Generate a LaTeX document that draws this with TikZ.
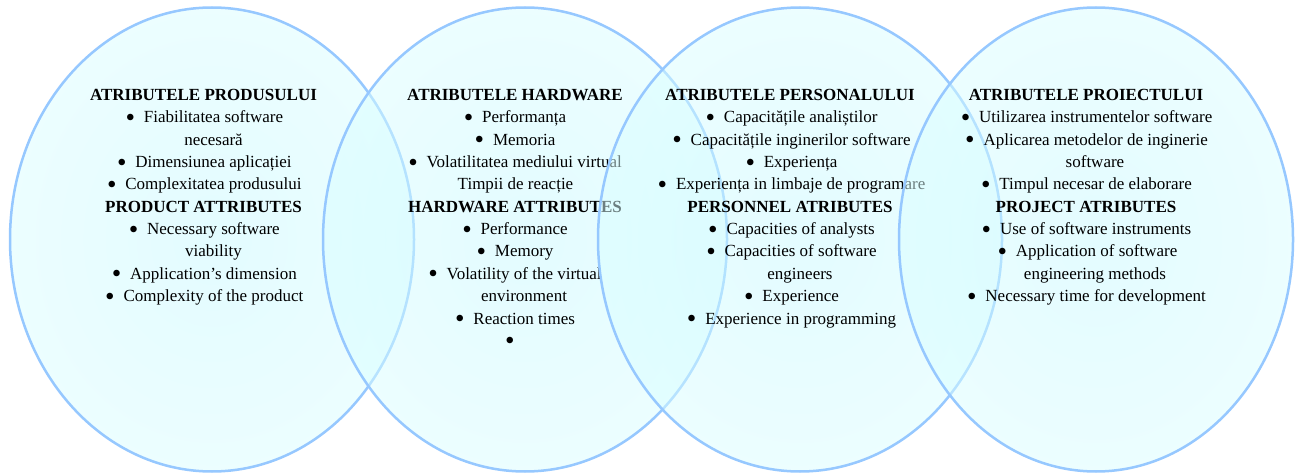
\documentclass[tikz,border=0pt]{standalone}
\usepackage{fontspec}
\setmainfont{Liberation Serif}
\definecolor{vennedge}{RGB}{150,200,255}
\definecolor{venninner}{RGB}{200,250,255}
\definecolor{vennouter}{RGB}{218,254,255}
\tikzset{
  vennline/.style={line width=2.5pt, draw=vennedge},
  vennfill/.style={inner color=venninner, outer color=vennouter, fill opacity=0.5},
  txt/.style={anchor=base, inner sep=0pt, font=\fontsize{17}{20}\selectfont},
  hd/.style={anchor=base, inner sep=0pt, font=\fontsize{17}{20}\selectfont\bfseries},
}
\newcommand\bigdot{\smash{\raisebox{-3.6pt}{\scalebox{1.6}{\textbullet}}}}
\newcommand\bl{\bigdot\hspace{8.8pt}}
\begin{document}
\begin{tikzpicture}[x=1pt,y=-1pt]
\useasboundingbox (0,0) rectangle (1296,473);
\fill[white] (0,0) rectangle (1296,473);
% ---------- ellipse 1
\shade[vennfill] (212,239.5) ellipse [x radius=202pt, y radius=232pt];
\draw[vennline] (212,239.5) ellipse [x radius=202pt, y radius=232pt];
\node[hd]  (a0) at (203.5,100.5)  {ATRIBUTELE PRODUSULUI};
\node[txt] (a1) at (204.3,122.85) {\bl Fiabilitatea software};
\node[txt] (a2) at (213.5,145.2)  {necesară};
\node[txt] (a3) at (204.3,167.55) {\bl Dimensiunea aplicației};
\node[txt] (a4) at (204.3,189.9)  {\bl Complexitatea produsului};
\node[hd]  (a5) at (203.5,212.25) {PRODUCT ATTRIBUTES};
\node[txt] (a6) at (204.3,234.6)  {\bl Necessary software};
\node[txt] (a7) at (213.5,256.95) {viability};
\node[txt] (a8) at (204.3,279.3)  {\bl Application’s dimension};
\node[txt] (a9) at (204.3,301.65) {\bl Complexity of the product};
% ---------- ellipse 2
\shade[vennfill] (525,239.5) ellipse [x radius=202pt, y radius=232pt];
\draw[vennline] (525,239.5) ellipse [x radius=202pt, y radius=232pt];
\node[hd]  (b0) at (515,100.5)  {ATRIBUTELE HARDWARE};
\node[txt] (b1) at (515,122.85) {\bl Performanța};
\node[txt] (b2) at (515,145.2)  {\bl Memoria};
\node[txt] (b3) at (515,167.55) {\bl Volatilitatea mediului virtual};
\node[txt] (b4) at (515.5,189.9) {Timpii de reacție};
\node[hd]  (b5) at (515,212.25) {HARDWARE ATTRIBUTES};
\node[txt] (b6) at (515,234.6)  {\bl Performance};
\node[txt] (b7) at (515,256.95) {\bl Memory};
\node[txt] (b8) at (515,279.3)  {\bl Volatility of the virtual};
\node[txt] (b9) at (524,301.65) {environment};
\node[txt] (b10) at (515,324.0) {\bl Reaction times};
\node[txt] (b11) at (510,346.35) {\bigdot};
% ---------- ellipse 3
\shade[vennfill] (800,239.5) ellipse [x radius=202pt, y radius=232pt];
\draw[vennline] (800,239.5) ellipse [x radius=202pt, y radius=232pt];
\node[hd]  (c0) at (790,100.5)    {ATRIBUTELE PERSONALULUI};
\node[txt] (c1) at (791.5,122.85) {\bl Capacitățile analiștilor};
\node[txt] (c2) at (791.5,145.2)  {\bl Capacitățile inginerilor software};
\node[txt] (c3) at (791.5,167.55) {\bl Experiența};
\node[txt] (c4) at (791.5,189.9)  {\bl Experiența in limbaje de programare};
\node[hd]  (c5) at (790,212.25)   {PERSONNEL ATRIBUTES};
\node[txt] (c6) at (791.5,234.6)  {\bl Capacities of analysts};
\node[txt] (c7) at (791.5,256.95) {\bl Capacities of software};
\node[txt] (c8) at (800,279.3)    {engineers};
\node[txt] (c9) at (791.5,301.65) {\bl Experience};
\node[txt] (c10) at (791.5,324.0) {\bl Experience in programming};
% ---------- ellipse 4
\shade[vennfill] (1096,239.5) ellipse [x radius=197pt, y radius=232pt];
\draw[vennline] (1096,239.5) ellipse [x radius=197pt, y radius=232pt];
\node[hd]  (d0) at (1086,100.5)    {ATRIBUTELE PROIECTULUI};
\node[txt] (d1) at (1086.5,122.85) {\bl Utilizarea instrumentelor software};
\node[txt] (d2) at (1086.5,145.2)  {\bl Aplicarea metodelor de inginerie};
\node[txt] (d3) at (1095,167.55)   {software};
\node[txt] (d4) at (1086.5,189.9)  {\bl Timpul necesar de elaborare};
\node[hd]  (d5) at (1086,212.25)   {PROJECT ATRIBUTES};
\node[txt] (d6) at (1086.5,234.6)  {\bl Use of software instruments};
\node[txt] (d7) at (1087.5,256.95) {\bl Application of software};
\node[txt] (d8) at (1095,279.3)    {engineering methods};
\node[txt] (d9) at (1086.5,301.65) {\bl Necessary time for development};
\end{tikzpicture}
\end{document}
